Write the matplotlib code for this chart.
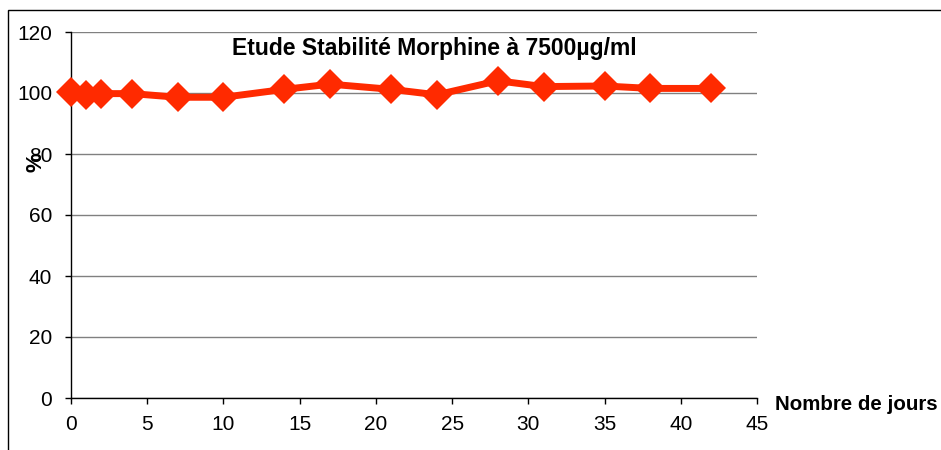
import matplotlib
matplotlib.use("Agg")
import matplotlib.pyplot as plt
from matplotlib.patches import Rectangle

# jours / pourcentage
jours = [0, 1, 2, 4, 7, 10, 14, 17, 21, 24, 28, 31, 35, 38, 42]
pourcent = [100.4, 99.3, 99.8, 99.8, 98.6, 98.6, 101.2, 102.9, 101.2, 99.4, 104.0, 102.1, 102.3, 101.5, 101.5]
xticks = [0, 5, 10, 15, 20, 25, 30, 35, 40, 45]
yticks = [0, 20, 40, 60, 80, 100, 120]

plt.rcParams['font.family'] = ['Liberation Sans', 'DejaVu Sans']

fig = plt.figure(figsize=(9.41, 4.5), dpi=100)
ax = fig.add_axes([71 / 941, 52 / 450, 686 / 941, 366 / 450])

# cadre extérieur
fig.patches.append(Rectangle((8 / 941, -0.1), 1.2, (440 / 450) + 0.1,
                             transform=fig.transFigure, fill=False,
                             edgecolor="black", linewidth=1))

ax.plot(jours, pourcent, color="#ff2a00", linewidth=5, marker="D",
        markersize=15, markeredgewidth=0, zorder=3, clip_on=False)

ax.set_xlim(0, 45)
ax.set_ylim(0, 120)
ax.set_xticks(xticks)
ax.set_yticks(yticks)
ax.tick_params(labelsize=15, length=4.5, width=1, color="black")
ax.tick_params(axis="y", pad=9)
ax.tick_params(axis="x", pad=8)
ax.grid(axis="y", color="#808080", linewidth=1)
ax.set_axisbelow(True)
for s in ["top", "right"]:
    ax.spines[s].set_visible(False)
for s in ["left", "bottom"]:
    ax.spines[s].set_linewidth(1)

ax.text(0.529, 1 - 16 / 366, "Etude Stabilité Morphine à 7500µg/ml", transform=ax.transAxes,
        fontsize=16.5, fontweight="bold", ha="center", va="center")
fig.text(36 / 941, 1 - 162 / 450, "%", rotation=90, fontsize=16, fontweight="bold",
         ha="center", va="center")
fig.text(775 / 941, 1 - 405 / 450, "Nombre de jours", fontsize=14.8, fontweight="bold",
         ha="left", va="center")

fig.savefig("out.png", dpi=100)
